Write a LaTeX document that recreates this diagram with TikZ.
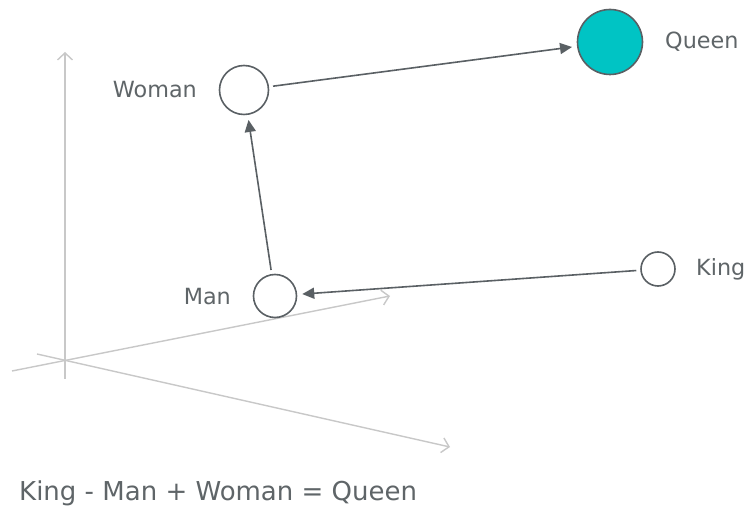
\documentclass[tikz,border=0pt]{standalone}
\usepackage{fontspec}
\setmainfont{DejaVu Sans}
\usetikzlibrary{arrows.meta}
\definecolor{txt}{HTML}{5F6568}
\definecolor{ink}{HTML}{5A6064}
\definecolor{axisgray}{HTML}{C8C8C8}
\definecolor{teal}{HTML}{00C4C4}
\begin{document}
\begin{tikzpicture}[x=1pt,y=-1pt,
  axis/.style={draw=axisgray,line width=1.4pt,-{Straight Barb[length=7pt,width=15pt,line width=1.4pt]}},
  word/.style={circle,draw=ink,line width=1.6pt,inner sep=0pt},
  label/.style={text=txt,font=\fontsize{22.3}{26}\selectfont,inner sep=0pt},
  vec/.style={draw=ink,line width=1.6pt,-{Triangle[length=12pt,width=11pt]},shorten >=5pt,shorten <=4pt}
]
\useasboundingbox (0,0) rectangle (748,510);
\fill[white] (0,0) rectangle (748,510);

% coordinate axes
\coordinate (o) at (65,360.5);
\coordinate (ztop) at (65,52);
\coordinate (zbot) at (65,379);
\coordinate (xstart) at (12,371);
\coordinate (xend) at (390,296);
\coordinate (ystart) at (37,354);
\coordinate (yend) at (450,447);
\draw[axis] (zbot) -- (ztop);
\draw[axis] (xstart) -- (xend);
\draw[axis] (ystart) -- (yend);

% word vectors
\node[word,minimum size=49pt] (woman) at (244,90) {};
\node[word,minimum size=43pt] (man) at (275,296) {};
\node[word,minimum size=34pt] (king) at (658,269) {};
\node[word,minimum size=65pt,fill=teal] (queen) at (610,42) {};

\node[label,anchor=east] (lwoman) at (197,90) {Woman};
\node[label,anchor=east] (lman) at (231,297) {Man};
\node[label,anchor=west] (lqueen) at (665,42) {Queen};
\node[label,anchor=west] (lking) at (696,269) {King};

\draw[vec] (king) -- (man);
\draw[vec] (man) -- (woman);
\draw[vec] (woman) -- (queen);

\node[label,anchor=west,font=\fontsize{26}{30}\selectfont] (eq) at (19,493) {King - Man + Woman = Queen};
\end{tikzpicture}
\end{document}
